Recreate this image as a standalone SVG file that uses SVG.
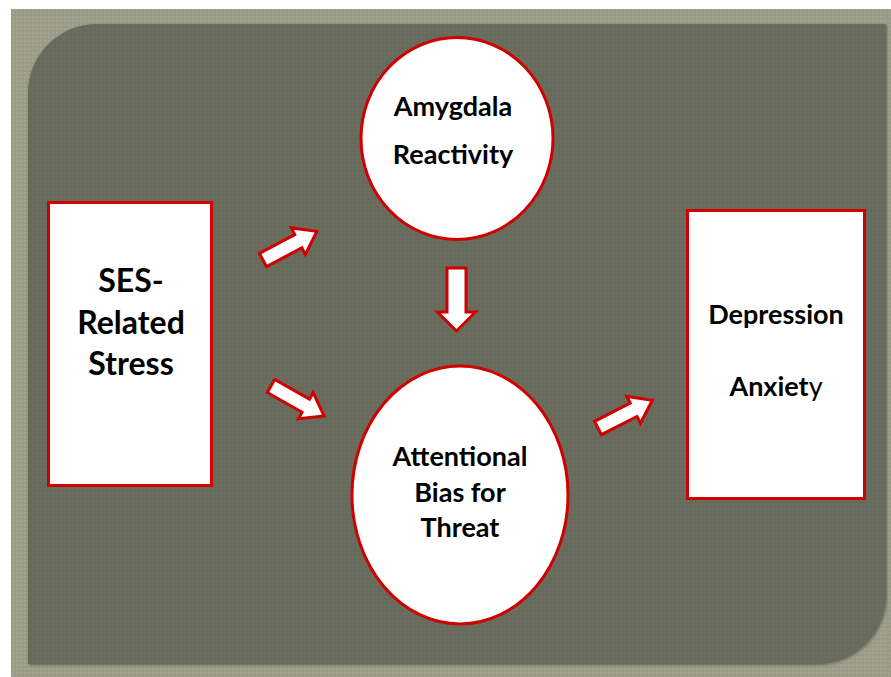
<svg xmlns="http://www.w3.org/2000/svg" width="891" height="677" viewBox="0 0 891 677">
<defs>
<pattern id="tex" width="4" height="4" patternUnits="userSpaceOnUse">
<rect width="4" height="4" fill="#9a9c88"/>
<rect width="2" height="2" fill="#a3a592"/>
</pattern>
<pattern id="tex2" width="4" height="4" patternUnits="userSpaceOnUse">
<rect width="4" height="4" fill="#686a5c"/>
<rect width="2" height="2" fill="#6c6e60"/>
</pattern>
<filter id="sh" x="-5%" y="-5%" width="110%" height="110%">
<feDropShadow dx="1" dy="1" stdDeviation="1.5" flood-color="#3a3c30" flood-opacity="0.6"/>
</filter>
</defs>
<style>
.node{fill:#fff;stroke:#d00000;stroke-width:3}
.arr{fill:#fff;stroke:#d00000;stroke-width:3;stroke-linejoin:miter}
text{font-family:Lato,"Liberation Sans",sans-serif;font-weight:bold;fill:#000;text-anchor:middle}
.big{font-size:32px}
.mid{font-size:27px}
</style>
<rect x="0" y="0" width="891" height="677" fill="#fff"/>
<rect x="11" y="9" width="880" height="668" fill="url(#tex)"/>
<path d="M28,93 A69,69 0 0 1 97,24 L886,24 L886,594 A70,70 0 0 1 816,664 L28,664 Z" fill="url(#tex2)" filter="url(#sh)"/>
<g id="ses">
<rect class="node" x="48.5" y="202.5" width="163" height="283"/>
<text class="big" x="131" y="292">SES-</text>
<text class="big" x="131" y="334">Related</text>
<text class="big" x="131" y="375">Stress</text>
</g>
<g id="amygdala">
<ellipse class="node" cx="457" cy="138.5" rx="96" ry="101"/>
<text class="mid" x="453" y="116">Amygdala</text>
<text class="mid" x="453" y="164">Reactivity</text>
</g>
<g id="attention">
<ellipse class="node" cx="460" cy="495" rx="108" ry="129"/>
<text class="mid" x="460" y="466">Attentional</text>
<text class="mid" x="460" y="502">Bias for</text>
<text class="mid" x="460" y="537">Threat</text>
</g>
<g id="outcome">
<rect class="node" x="687.5" y="210.5" width="177" height="288"/>
<text class="mid" x="776" y="324">Depression</text>
<text class="mid" x="776" y="396">Anxiet<tspan font-weight="normal">y</tspan></text>
</g>
<g id="connectors">
<path class="arr" transform="translate(263,260) rotate(-28)" d="M0,-7.5 L40,-7.5 L40,-15 L61,0 L40,15 L40,7.5 L0,7.5 Z"/>
<path class="arr" transform="translate(456.5,268) rotate(90)" d="M0,-9.5 L44,-9.5 L44,-19 L63,0 L44,19 L44,9.5 L0,9.5 Z"/>
<path class="arr" transform="translate(271,386) rotate(29.5)" d="M0,-7.5 L40,-7.5 L40,-15 L61,0 L40,15 L40,7.5 L0,7.5 Z"/>
<path class="arr" transform="translate(598,428) rotate(-27)" d="M0,-7.5 L40,-7.5 L40,-15 L61,0 L40,15 L40,7.5 L0,7.5 Z"/>
</g>
</svg>
